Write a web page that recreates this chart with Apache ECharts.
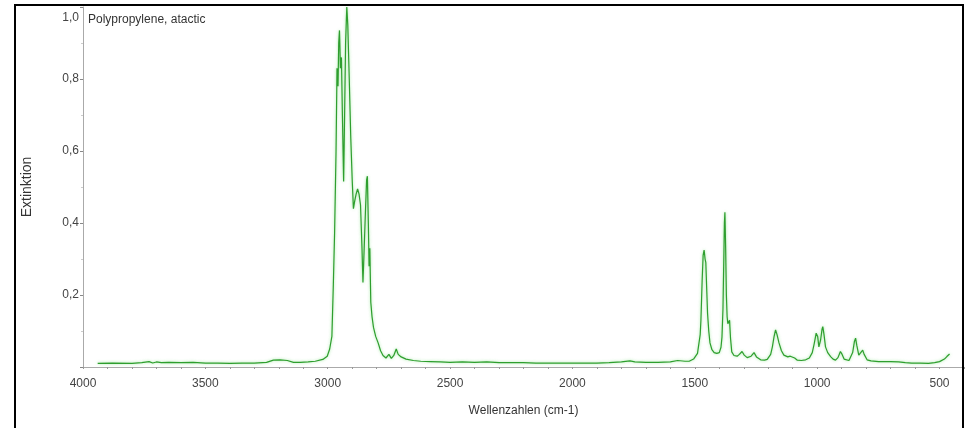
<!DOCTYPE html>
<html>
<head>
<meta charset="utf-8">
<script src="https://cdn.jsdelivr.net/npm/echarts@6/dist/echarts.min.js"></script>
<style>
html,body{margin:0;padding:0;background:#fff;}
#c{width:967px;height:428px;}
</style>
</head>
<body>
<div id="c"></div>
<script>
const title = "Polypropylene, atactic";
const xName = "Wellenzahlen (cm-1)";
const yName = "Extinktion";
const xTicks = [4000, 3500, 3000, 2500, 2000, 1500, 1000, 500];
const yTicks = [0.2, 0.4, 0.6, 0.8, 1.0];

const wavenumbers = [
3940,3880,3800,3760,3730,3715,3700,3680,3650,3600,3550,3500,3450,3400,3350,3300,3250,3222,3195,3165,3140,3112,3080,3051,3020,3002,2992,2983,2977,2972,2966,2962,2958,2955,2952,2948,2944,2940,2935,2931,2927,2922,2918,2912,2906,2900,2895,2890,2884,2878,2872,2866,2860,2856,2851,2846,2841,2838,2834,2831,2828,2824,2819,2813,2804,2794,2784,2774,2762,2750,2740,2730,2720,2712,2700,2680,2650,2620,2580,2540,2500,2450,2400,2350,2300,2250,2200,2150,2100,2050,2000,1950,1900,1850,1800,1765,1745,1700,1650,1600,1570,1540,1523,1505,1489,1478,1475,1470,1466,1462,1458,1455,1451,1448,1443,1438,1430,1421,1410,1400,1393,1389,1385,1382,1379,1377,1374,1371,1368,1365,1362,1358,1354,1349,1340,1327,1318,1307,1298,1286,1270,1258,1248,1231,1215,1204,1190,1183,1176,1170,1164,1156,1146,1136,1120,1110,1102,1092,1081,1065,1047,1032,1020,1012,1004,998,993,986,980,977,972,966,957,945,935,925,915,905,898,890,884,870,864,855,848,843,838,830,822,814,808,796,780,749,700,667,640,614,580,545,520,500,492,480,470,459
];
const extinction = [
0.010,0.011,0.010,0.012,0.015,0.011,0.014,0.012,0.013,0.012,0.013,0.011,0.011,0.010,0.011,0.011,0.013,0.019,0.020,0.018,0.013,0.013,0.014,0.016,0.021,0.030,0.050,0.085,0.23,0.37,0.60,0.83,0.78,0.90,0.935,0.83,0.86,0.70,0.515,0.70,0.90,1.0,0.95,0.80,0.64,0.52,0.44,0.46,0.48,0.495,0.48,0.45,0.33,0.235,0.33,0.43,0.52,0.53,0.40,0.28,0.33,0.18,0.14,0.11,0.085,0.067,0.045,0.032,0.025,0.035,0.024,0.032,0.050,0.035,0.028,0.022,0.018,0.016,0.015,0.014,0.013,0.014,0.013,0.014,0.012,0.012,0.012,0.011,0.011,0.011,0.011,0.011,0.011,0.012,0.014,0.017,0.014,0.013,0.013,0.014,0.018,0.016,0.016,0.022,0.038,0.09,0.13,0.24,0.31,0.325,0.30,0.29,0.21,0.15,0.10,0.067,0.048,0.040,0.038,0.040,0.055,0.083,0.16,0.28,0.40,0.43,0.33,0.20,0.14,0.12,0.125,0.13,0.08,0.042,0.032,0.030,0.035,0.043,0.033,0.026,0.030,0.040,0.028,0.020,0.019,0.021,0.035,0.056,0.085,0.103,0.09,0.067,0.045,0.033,0.028,0.030,0.034,0.025,0.019,0.018,0.020,0.025,0.040,0.065,0.094,0.085,0.056,0.075,0.105,0.112,0.09,0.056,0.040,0.029,0.022,0.019,0.026,0.043,0.035,0.022,0.019,0.018,0.020,0.040,0.070,0.080,0.060,0.033,0.035,0.047,0.035,0.020,0.017,0.015,0.015,0.014,0.012,0.011,0.011,0.010,0.012,0.015,0.016,0.022,0.029,0.036
];

const chart = echarts.init(document.getElementById('c'), null, {renderer: 'canvas'});
const font = 'Liberation Sans';
const data = wavenumbers.map((w, i) => [w, extinction[i]]);

chart.setOption({
  animation: false,
  backgroundColor: '#fff',
  title: {
    text: title, left: 83, top: 9,
    textStyle: {fontFamily: font, fontSize: 12, fontWeight: 'normal', color: '#333'}
  },
  grid: {left: 83, right: 1, top: 7, bottom: 61},
  xAxis: {
    type: 'value', inverse: true, min: 400, max: 4000, interval: 100,
    name: xName, nameLocation: 'middle', nameGap: 38,
    nameTextStyle: {fontFamily: font, fontSize: 12, color: '#333'},
    axisLine: {show: true, lineStyle: {color: '#aaa', width: 1}},
    axisTick: {show: true, length: 2, lineStyle: {color: '#999'}},
    splitLine: {show: false},
    axisLabel: {
      fontFamily: font, fontSize: 12, color: '#444', margin: 11,
      formatter: v => xTicks.indexOf(v) >= 0 ? String(v) : ''
    }
  },
  yAxis: {
    type: 'value', min: 0, max: 1, interval: 0.2,
    name: yName, nameLocation: 'middle', nameGap: 49,
    nameTextStyle: {fontFamily: font, fontSize: 14, color: '#333'},
    axisLine: {show: true, lineStyle: {color: '#aaa', width: 1}},
    axisTick: {show: true, length: 3, lineStyle: {color: '#888'}},
    minorTick: {show: true, splitNumber: 2, length: 2, lineStyle: {color: '#ccc'}},
    splitLine: {show: false},
    axisLabel: {
      fontFamily: font, fontSize: 12, color: '#444', margin: 4,
      formatter: v => {
        if (v === 0) return '';
        const s = v.toFixed(1).replace('.', ',');
        return v === 1 ? '{t|' + s + '}' : s;
      },
      rich: {t: {fontFamily: font, fontSize: 12, color: '#444', padding: [22, 0, 0, 0]}}
    }
  },
  series: [{
    type: 'line', data: data, showSymbol: false, smooth: false,
    lineStyle: {color: '#2e9e2e', width: 1.2, shadowColor: 'rgba(110,220,110,0.7)', shadowBlur: 3},
    clip: false
  }],
  graphic: [{
    type: 'rect', z: 100, silent: true,
    shape: {x: 15, y: 5, width: 948, height: 440},
    style: {fill: 'none', stroke: '#000', lineWidth: 2}
  }]
});
</script>
</body>
</html>
